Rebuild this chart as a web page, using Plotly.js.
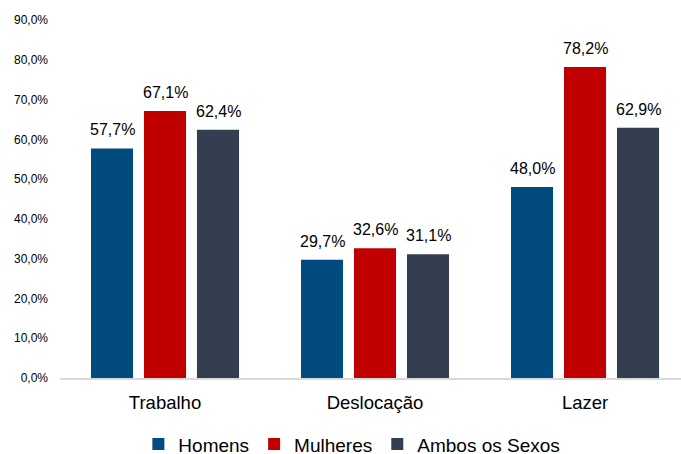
<!DOCTYPE html>
<html>
<head>
<meta charset="utf-8">
<script src="https://cdn.plot.ly/plotly-3.0.1.min.js"></script>
<style>html,body{margin:0;padding:0;background:#fff;}</style>
</head>
<body>
<div id="chart" style="width:681px;height:454px;"></div>
<script>
const categories = ["Trabalho", "Deslocação", "Lazer"];
const seriesNames = ["Homens", "Mulheres", "Ambos os Sexos"];
const homens = [57.7, 29.7, 48.0];
const mulheres = [67.1, 32.6, 78.2];
const ambos = [62.4, 31.1, 62.9];
const yTicks = [0, 10, 20, 30, 40, 50, 60, 70, 80, 90];

const colors = ["#024B7F", "#C00000", "#333F50"];
const allSeries = [homens, mulheres, ambos];
const font = "Liberation Sans, Arial, sans-serif";

const traces = allSeries.map((vals, i) => ({
  type: "bar",
  name: seriesNames[i],
  x: categories,
  y: vals,
  marker: {color: colors[i]},
  hoverinfo: "skip"
}));

const fmt = v => v.toFixed(1).replace(".", ",") + "%";
const annotations = [];
allSeries.forEach((vals, i) => {
  vals.forEach((v, j) => {
    annotations.push({
      x: categories[j], y: v, xref: "x", yref: "y",
      text: fmt(v), showarrow: false,
      xanchor: "center", yanchor: "bottom",
      xshift: (i - 1) * 53, yshift: 8,
      font: {family: font, size: 16, color: "#000"}
    });
  });
});

const layout = {
  width: 681, height: 454,
  margin: {l: 60, r: 0, t: 20, b: 76, autoexpand: false},
  paper_bgcolor: "#fff", plot_bgcolor: "#fff",
  separators: ",.",
  barmode: "group",
  bargap: 0.243,
  bargroupgap: 0.206,
  font: {family: font, color: "#000"},
  xaxis: {
    range: [-0.5, 2.457],
    showgrid: false, zeroline: false,
    showline: true, linecolor: "#D9D9D9", linewidth: 1.5,
    ticks: "", ticklabelstandoff: 7,
    tickfont: {family: font, size: 18.5, color: "#000"},
    automargin: false,
    fixedrange: true
  },
  yaxis: {
    range: [0, 90],
    tickvals: yTicks,
    ticktext: yTicks.map(v => v.toFixed(1).replace(".", ",") + "%"),
    showgrid: false, zeroline: false, showline: false,
    ticks: "", ticklabelstandoff: 11,
    tickfont: {family: font, size: 12, color: "#000"},
    automargin: false,
    fixedrange: true
  },
  showlegend: true,
  legend: {
    orientation: "h",
    x: 0.47, xanchor: "center",
    y: -0.185, yanchor: "middle",
    font: {family: font, size: 19, color: "#000"},
    itemwidth: 30,
    traceorder: "normal"
  },
  annotations: annotations
};

Plotly.newPlot("chart", traces, layout, {displayModeBar: false, staticPlot: true});
</script>
</body>
</html>
